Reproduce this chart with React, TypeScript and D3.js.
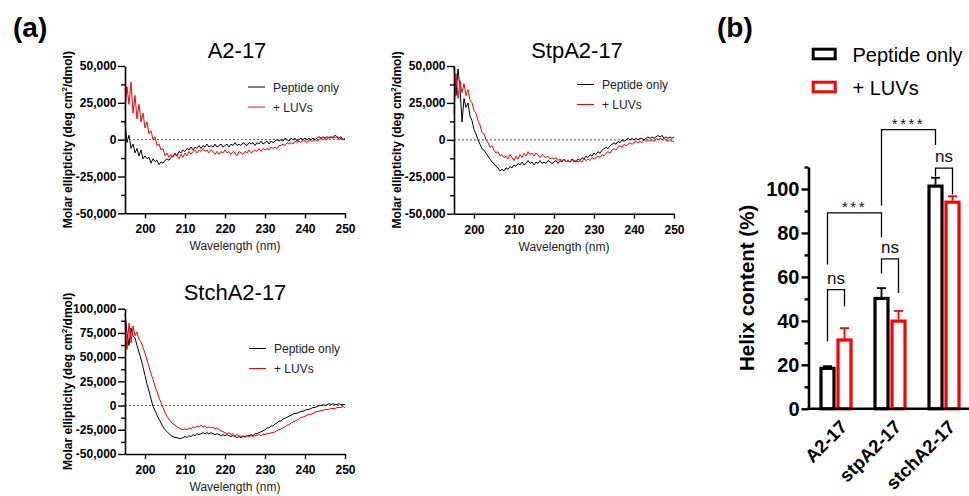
import React, { useEffect, useRef } from 'react';
import * as d3 from 'd3';

const FONT = '"Liberation Sans", Arial, Helvetica, sans-serif';

// CD spectra: molar ellipticity in thousands of deg cm2/dmol, 195 -> 250 nm in 0.5 nm steps
const a217Peptide = [
  12, -2, 3, -6, -3, -9, -6, -11, -7, -13, -11, -13, -12, -16, -13, -15, -14, -17, -15, -16,
  -14, -13, -14, -12, -11, -10, -11, -8, -9, -7, -8, -6, -7, -5, -7, -5, -6, -4, -6, -4,
  -5, -3, -5, -4, -5, -3, -5, -4, -3, -5, -4, -3, -5, -3, -4, -2, -4, -3, -4, -2,
  -3, -4, -2, -3, -2, -4, -2, -3, -1, -3, -2, -1, -3, -1, -2, -1, 0, -1, 0, -1,
  1, 0, -1, 1, 0, 1, -1, 0, 1, 0, 1, 0, 1, 0, 1, 0, 1, 2, 1, 2,
  1, 2, 1, 2, 1, 3, 2, 1, 2, 0, 1,
];
const a217Luv = [
  20, 36, 24, 39, 18, 30, 14, 24, 12, 18, 8, 12, 4, 6, 0, 2, -4, -3, -7, -6,
  -11, -9, -12, -10, -12, -9, -11, -13, -10, -12, -9, -11, -8, -10, -8, -7, -9, -7, -8, -6,
  -8, -7, -9, -7, -8, -10, -8, -10, -8, -9, -7, -9, -8, -10, -8, -9, -11, -8, -9, -10,
  -8, -9, -7, -9, -8, -7, -8, -6, -8, -6, -7, -6, -7, -5, -6, -5, -6, -4, -4, -3,
  -4, -2, -3, -2, -3, -1, -2, -1, -2, 0, -1, -2, 0, -1, -1, 0, -1, 0, 1, 0,
  1, 0, 2, 1, 2, 1, 2, 0, 1, 0, 0,
];
const stpPeptide = [
  50, 30, 48, 35, 12, 28, 22, 25, 16, 13, 7, 4, 0, -3, -6, -7, -9, -11, -13, -15,
  -16, -18, -19, -21, -20, -21, -19, -20, -18, -19, -17, -18, -16, -17, -15, -17, -16, -14, -16, -15,
  -17, -15, -16, -14, -16, -15, -16, -14, -15, -16, -15, -14, -16, -14, -15, -13, -15, -14, -15, -13,
  -14, -15, -13, -14, -12, -13, -11, -12, -10, -11, -9, -10, -8, -9, -7, -6, -5, -6, -4, -3,
  -2, -3, -1, -2, 0, -1, 0, 1, 0, 1, 0, 1, 0, 1, 1, 0, 1, 2, 1, 2,
  1, 2, 3, 2, 3, 1, 2, 1, 2, 1, 2,
];
const stpLuv = [
  18, 45, 28, 40, 32, 38, 30, 34, 27, 25, 20, 18, 13, 10, 5, 4, 0, -2, -5, -4,
  -7, -9, -8, -11, -10, -12, -11, -13, -10, -12, -14, -11, -13, -10, -12, -9, -11, -8, -10, -9,
  -11, -9, -10, -12, -10, -11, -12, -11, -13, -12, -13, -12, -14, -13, -14, -13, -15, -14, -15, -14,
  -15, -14, -15, -14, -15, -13, -14, -13, -14, -12, -13, -12, -11, -12, -10, -11, -9, -8, -9, -7,
  -6, -7, -5, -4, -5, -3, -4, -3, -2, -3, -2, -1, -2, -1, -2, 0, -1, 0, -1, 0,
  -1, 1, 0, 1, 0, 1, 0, -1, 0, -1, -1,
];
const stchPeptide = [
  95, 75, 62, 80, 72, 70, 62, 55, 48, 40, 31, 22, 15, 7, -1, -5, -10, -14, -18, -22,
  -25, -27, -29, -31, -32, -33, -33, -34, -34, -33, -32, -33, -31, -32, -30, -31, -29, -30, -29, -28,
  -29, -28, -29, -28, -29, -30, -29, -30, -31, -30, -31, -30, -31, -32, -31, -32, -33, -32, -33, -32,
  -32, -31, -31, -30, -31, -29, -29, -28, -27, -26, -25, -23, -23, -21, -21, -19, -18, -16, -16, -14,
  -13, -12, -11, -10, -9, -8, -8, -7, -6, -6, -5, -4, -4, -3, -2, -2, -1, 0, 0, 1,
  0, 1, 2, 1, 2, 1, 1, 2, 1, 1, 1,
];
const stchLuv = [
  88, 58, 85, 65, 82, 72, 76, 68, 66, 60, 54, 47, 40, 33, 27, 20, 14, 8, 3, -2,
  -7, -11, -14, -17, -19, -20, -22, -23, -24, -25, -24, -25, -23, -24, -22, -23, -21, -22, -20, -22,
  -21, -23, -22, -23, -22, -24, -23, -25, -26, -27, -28, -29, -28, -30, -29, -31, -30, -31, -32, -31,
  -33, -31, -32, -31, -32, -31, -31, -30, -31, -30, -30, -29, -29, -28, -28, -27, -26, -25, -24, -23,
  -22, -20, -20, -18, -17, -16, -15, -14, -12, -12, -11, -10, -9, -9, -8, -7, -6, -6, -5, -5,
  -4, -4, -4, -3, -3, -3, -2, -2, -2, -1, -2,
];

const seriesNames = ['Peptide only', '+ LUVs'];
const seriesColors = ['#000000', '#ff0000'];

// Helix content (%)
const helixGroups = ['A2-17', 'stpA2-17', 'stchA2-17'];
const helixPeptide = [18.4, 50.2, 101.3];
const helixPeptideErr = [1.0, 4.7, 3.8];
const helixLuv = [31.3, 39.9, 94.0];
const helixLuvErr = [5.4, 4.6, 2.7];

// significance brackets: [group, series] ends, top and leg ends in % units
const sigBrackets = [
  { label: 'ns', a: [0, 0], b: [0, 1], top: 54.2, legA: 30.7, legB: 46.6 },
  { label: 'ns', a: [1, 0], b: [1, 1], top: 68.2, legA: 61.5, legB: 52.7 },
  { label: 'ns', a: [2, 0], b: [2, 1], top: 109.5, legA: 105.7, legB: 97.5 },
  { label: '***', a: [0, 0], b: [1, 0], top: 89.1, legA: 65.6, legB: 78.0 },
  { label: '****', a: [1, 0], b: [2, 0], top: 127.0, legA: 92.5, legB: 120.0 },
];

const fmt = (v: number) => (v * 1000).toLocaleString('en-US');

const cdPanels = [
  { title: 'A2-17', peptide: a217Peptide, luv: a217Luv, yMin: -50, yMax: 50,
    x0: 125, x1: 345, yTop: 66, yBot: 213.3, titleX: 237, titleY: 58, legX: 248, legY: 87 },
  { title: 'StpA2-17', peptide: stpPeptide, luv: stpLuv, yMin: -50, yMax: 50,
    x0: 454, x1: 674, yTop: 66, yBot: 213.7, titleX: 577, titleY: 58, legX: 577, legY: 84.5 },
  { title: 'StchA2-17', peptide: stchPeptide, luv: stchLuv, yMin: -50, yMax: 100,
    x0: 125, x1: 345, yTop: 308.7, yBot: 454, titleX: 235, titleY: 300, legX: 249, legY: 348.5 },
];

type CdPanel = typeof cdPanels[number];

function drawCD(svg: d3.Selection<SVGSVGElement, unknown, null, undefined>, p: CdPanel) {
  const x = d3.scaleLinear().domain([195, 250]).range([p.x0, p.x1]);
  const y = d3.scaleLinear().domain([p.yMin, p.yMax]).range([p.yBot, p.yTop]).clamp(true);
  const g = svg.append('g');

  g.append('line')
    .attr('x1', x(195)).attr('x2', x(250))
    .attr('y1', y(0)).attr('y2', y(0))
    .attr('stroke', '#555').attr('stroke-width', 1).attr('stroke-dasharray', '2,2');

  const line = d3.line<number>()
    .x((_, i) => x(195 + i * 0.5))
    .y(d => y(d));

  [p.peptide, p.luv].forEach((s, k) => {
    g.append('path')
      .datum(s)
      .attr('d', line)
      .attr('fill', 'none')
      .attr('stroke', seriesColors[k])
      .attr('stroke-width', 1)
      .attr('stroke-linejoin', 'round');
  });

  const yTicks = d3.range(p.yMin, p.yMax + 0.1, 12.5);
  const yAxis = g.append('g')
    .attr('transform', `translate(${p.x0},0)`)
    .call(d3.axisLeft(y).tickValues(yTicks).tickSize(7).tickSizeOuter(0).tickPadding(1.5)
      .tickFormat((v, i) => (i % 2 === 0 ? fmt(v as number) : '')));
  yAxis.selectAll('.tick line').filter((_, i) => i % 2 === 1).attr('x2', -4);

  const xAxis = g.append('g')
    .attr('transform', `translate(0,${p.yBot})`)
    .call(d3.axisBottom(x).tickValues([200, 210, 220, 230, 240, 250]).tickSize(5).tickSizeOuter(0).tickPadding(6.5)
      .tickFormat(d => String(d)));

  [yAxis, xAxis].forEach(a => {
    a.attr('font-family', FONT).attr('font-size', 12).attr('font-weight', 'bold');
    a.select('.domain').attr('stroke-width', 1.6);
    a.selectAll('.tick line').attr('stroke-width', 1.4);
    a.selectAll('.tick text').attr('fill', '#000');
  });

  // labels
  g.append('text')
    .attr('x', (p.x0 + p.x1) / 2).attr('y', p.yBot + 37)
    .attr('text-anchor', 'middle').attr('font-family', FONT).attr('font-size', 12)
    .attr('fill', '#222')
    .text('Wavelength (nm)');

  const yl = g.append('text')
    .attr('transform', `translate(${p.x0 - 53},${(p.yTop + p.yBot) / 2}) rotate(-90)`)
    .attr('text-anchor', 'middle').attr('font-family', FONT).attr('font-size', 12)
    .attr('font-weight', 'bold');
  yl.append('tspan').text('Molar ellipticity (deg cm');
  yl.append('tspan').attr('font-size', 8).attr('dy', -5).text('2');
  yl.append('tspan').attr('dy', 5).text('/dmol)');

  g.append('text')
    .attr('x', p.titleX).attr('y', p.titleY)
    .attr('text-anchor', 'middle').attr('font-family', FONT).attr('font-size', 22)
    .text(p.title);

  seriesNames.forEach((name, k) => {
    const ly = p.legY + k * 20;
    g.append('line')
      .attr('x1', p.legX).attr('x2', p.legX + 17)
      .attr('y1', ly).attr('y2', ly)
      .attr('stroke', seriesColors[k]).attr('stroke-width', 1);
    g.append('text')
      .attr('x', p.legX + 25).attr('y', ly + 4.5)
      .attr('font-family', FONT).attr('font-size', 12).attr('fill', '#222')
      .text(name);
  });
}

function drawHelix(svg: d3.Selection<SVGSVGElement, unknown, null, undefined>) {
  const g = svg.append('g');
  const xb = d3.scaleBand().domain(helixGroups).range([809, 971]);
  const yb = d3.scaleLinear().domain([0, 110]).range([408.8, 167]);

  const values = [helixPeptide, helixLuv];
  const errs = [helixPeptideErr, helixLuvErr];
  const barCenter = (gi: number, k: number) => {
    const c = (xb(helixGroups[gi]) as number) + xb.bandwidth() / 2;
    return k === 0 ? c - 8.5 : c + 8.5;
  };

  values.forEach((vals, k) => {
    vals.forEach((v, gi) => {
      const cx = barCenter(gi, k);
      g.append('rect')
        .attr('x', cx - 6.5).attr('width', 13)
        .attr('y', yb(v)).attr('height', yb(0) - yb(v))
        .attr('fill', 'none').attr('stroke', seriesColors[k]).attr('stroke-width', 3.2);
      const top = yb(v + errs[k][gi]);
      g.append('line')
        .attr('x1', cx).attr('x2', cx).attr('y1', yb(v) - 1.5).attr('y2', top)
        .attr('stroke', seriesColors[k]).attr('stroke-width', 1.8);
      g.append('line')
        .attr('x1', cx - 4.5).attr('x2', cx + 4.5).attr('y1', top).attr('y2', top)
        .attr('stroke', seriesColors[k]).attr('stroke-width', 1.8);
    });
  });

  // axes
  const yAxis = g.append('g')
    .attr('transform', 'translate(808.5,0)')
    .call(d3.axisLeft(yb).tickValues(d3.range(0, 111, 10)).tickSize(7).tickSizeOuter(0).tickPadding(2)
      .tickFormat((v, i) => (i % 2 === 0 ? String(v) : '')));
  yAxis.selectAll('.tick line').filter((_, i) => i % 2 === 1).attr('x2', -4);
  yAxis.attr('font-family', FONT).attr('font-size', 20).attr('font-weight', 'bold');
  yAxis.select('.domain').attr('stroke-width', 2.6);
  yAxis.selectAll('.tick line').attr('stroke-width', 2.4);
  yAxis.selectAll('.tick text').attr('fill', '#000');

  g.append('line')
    .attr('x1', 807.2).attr('x2', 969).attr('y1', yb(0)).attr('y2', yb(0))
    .attr('stroke', '#000').attr('stroke-width', 2.6);

  helixGroups.forEach(name => {
    const c = (xb(name) as number) + xb.bandwidth() / 2;
    g.append('text')
      .attr('transform', `translate(${c + 3},${yb(0) + 10}) rotate(-45)`)
      .attr('text-anchor', 'end').attr('dy', '0.71em')
      .attr('font-family', FONT).attr('font-size', 18.5).attr('font-weight', 'bold')
      .text(name);
  });

  g.append('text')
    .attr('transform', `translate(754,${yb(55)}) rotate(-90)`)
    .attr('text-anchor', 'middle')
    .attr('font-family', FONT).attr('font-size', 20.5).attr('font-weight', 'bold')
    .text('Helix content (%)');

  // significance brackets
  sigBrackets.forEach(b => {
    const xa = barCenter(b.a[0], b.a[1]);
    const xc = barCenter(b.b[0], b.b[1]);
    const yt = yb(b.top);
    g.append('path')
      .attr('d', `M${xa},${yb(b.legA)}V${yt}H${xc}V${yb(b.legB)}`)
      .attr('fill', 'none').attr('stroke', '#000').attr('stroke-width', 1.3);
    const stars = b.label !== 'ns';
    g.append('text')
      .attr('x', (xa + xc) / 2).attr('y', stars ? yt - 1 : yt - 6)
      .attr('text-anchor', 'middle').attr('font-family', FONT)
      .attr('font-size', stars ? 15 : 17)
      .attr('letter-spacing', stars ? 2.5 : 0)
      .attr('fill', '#111')
      .text(b.label);
  });

  // legend
  seriesNames.forEach((name, k) => {
    const ly = 54 + k * 33;
    g.append('rect')
      .attr('x', 813.2).attr('y', ly - 4.8).attr('width', 22).attr('height', 9.6)
      .attr('fill', 'none').attr('stroke', seriesColors[k]).attr('stroke-width', 3);
    g.append('text')
      .attr('x', 852.5).attr('y', ly + 7.5)
      .attr('font-family', FONT).attr('font-size', 20)
      .text(name);
  });
}

const App = () => {
  const ref = useRef<SVGSVGElement>(null);

  useEffect(() => {
    const svg = d3.select(ref.current as SVGSVGElement);
    svg.selectAll('*').remove();

    cdPanels.forEach(p => drawCD(svg, p));
    drawHelix(svg);

    svg.append('text').attr('x', 13).attr('y', 37)
      .attr('font-family', FONT).attr('font-size', 28).attr('font-weight', 'bold').text('(a)');
    svg.append('text').attr('x', 717).attr('y', 37)
      .attr('font-family', FONT).attr('font-size', 28).attr('font-weight', 'bold').text('(b)');
  }, []);

  return (
    <svg
      ref={ref}
      width={969}
      height={496}
      style={{ position: 'absolute', left: 0, top: 0, background: '#fff' }}
    />
  );
};

export default App;
